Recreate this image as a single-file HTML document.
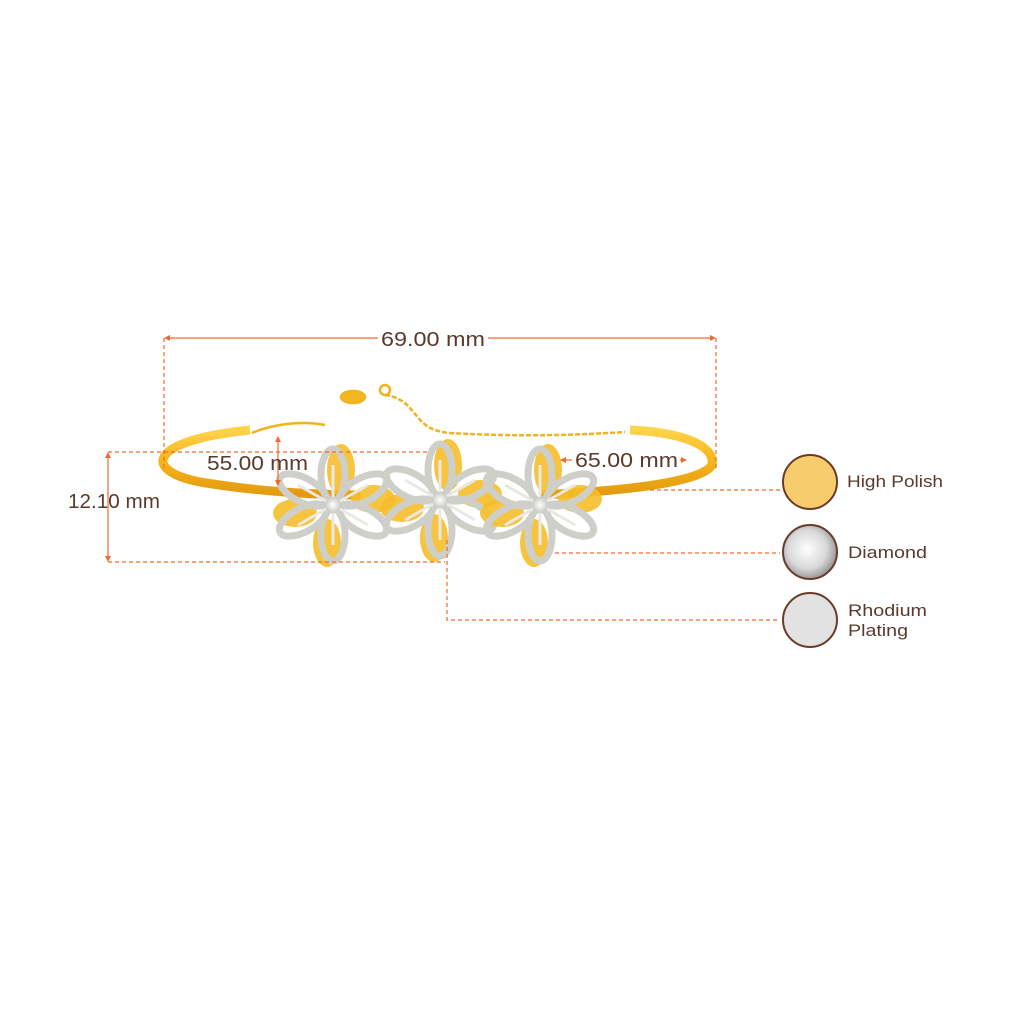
<!DOCTYPE html>
<html><head><style>body{margin:0;background:#fff}svg{display:block}</style></head><body>
<svg width="1024" height="1024" viewBox="0 0 1024 1024" xmlns="http://www.w3.org/2000/svg" font-family="Liberation Sans, sans-serif">
<defs>
<linearGradient id="g" x1="0" y1="0" x2="0" y2="1"><stop offset="0" stop-color="#ffd34a"/><stop offset=".5" stop-color="#f5b417"/><stop offset="1" stop-color="#e39a10"/></linearGradient>
<radialGradient id="s" cx=".5" cy=".5" r=".5"><stop offset="0" stop-color="#fff"/><stop offset="1" stop-color="#c9c9c4"/></radialGradient>
<radialGradient id="d" cx=".45" cy=".45" r=".6"><stop offset="0" stop-color="#fff"/><stop offset=".6" stop-color="#d8d8d8"/><stop offset="1" stop-color="#888"/></radialGradient>
<g id="fl">
<g fill="#f6be2a" opacity=".9"><ellipse cx="8" cy="-35" rx="14" ry="26"/><ellipse cx="40" cy="-6" rx="22" ry="14"/><ellipse cx="-38" cy="8" rx="22" ry="14"/><ellipse cx="-6" cy="38" rx="14" ry="24"/></g>
<g fill="none" stroke="#cfcfca" stroke-width="7">
<ellipse cx="0" cy="-30" rx="12" ry="26"/><ellipse cx="0" cy="30" rx="12" ry="26"/>
<ellipse cx="-30" cy="-15" rx="12" ry="26" transform="rotate(-62 -30 -15)"/><ellipse cx="30" cy="-15" rx="12" ry="26" transform="rotate(62 30 -15)"/>
<ellipse cx="-30" cy="15" rx="12" ry="26" transform="rotate(62 -30 15)"/><ellipse cx="30" cy="15" rx="12" ry="26" transform="rotate(-62 30 15)"/>
</g>
<g stroke="#e8e8e4" stroke-width="3"><line x1="0" y1="-40" x2="0" y2="40"/><line x1="-35" y1="-20" x2="35" y2="20"/><line x1="-35" y1="20" x2="35" y2="-20"/></g>
<circle r="8" fill="url(#s)"/>
</g>
</defs>
<path d="M250 430 C 150 440 140 470 200 482 C 260 492 320 495 360 495" fill="none" stroke="url(#g)" stroke-width="9"/>
<path d="M540 495 C 600 492 700 485 712 465 C 716 445 680 432 630 430" fill="none" stroke="url(#g)" stroke-width="9"/>
<g fill="none" stroke="#f0b21e" stroke-width="2.5">
<path d="M252 433 C 270 425 300 420 325 425"/>
<path d="M385 395 C 420 400 410 430 450 433 C 520 437 580 435 625 432" stroke-dasharray="5 2"/>
<ellipse cx="353" cy="397" rx="12" ry="6" fill="#f3b81f"/>
<circle cx="385" cy="390" r="5"/>
</g>
<use href="#fl" x="333" y="505"/>
<use href="#fl" x="440" y="500"/>
<use href="#fl" x="540" y="505"/>
<g stroke="#f26a2f" stroke-width="1.2" fill="none">
<line x1="166" y1="338" x2="378" y2="338"/><line x1="488" y1="338" x2="714" y2="338"/>
<line x1="164" y1="338" x2="164" y2="470" stroke-dasharray="4 3"/><line x1="716" y1="338" x2="716" y2="470" stroke-dasharray="4 3"/>
<line x1="108" y1="452" x2="430" y2="452" stroke-dasharray="4 3"/><line x1="108" y1="562" x2="445" y2="562" stroke-dasharray="4 3"/>
<line x1="108" y1="455" x2="108" y2="559"/>
<line x1="278" y1="439" x2="278" y2="483"/>
<line x1="562" y1="460" x2="572" y2="460"/><line x1="680" y1="460" x2="684" y2="460"/>
<line x1="650" y1="490" x2="780" y2="490" stroke-dasharray="4 3"/>
<line x1="555" y1="553" x2="780" y2="553" stroke-dasharray="4 3"/>
<path d="M447 540 V620 H780" stroke-dasharray="4 3"/>
</g>
<g fill="#f26a2f">
<path d="M164 338 l6 -3 v6z"/><path d="M716 338 l-6 -3 v6z"/>
<path d="M108 452 l-3 6 h6z"/><path d="M108 562 l-3 -6 h6z"/>
<path d="M278 436 l-3 6 h6z"/><path d="M278 486 l-3 -6 h6z"/>
<path d="M560 460 l6 -3 v6z"/><path d="M687 460 l-6 -3 v6z"/>
</g>
<g fill="#5a3a2e" font-size="20">
<text x="381" y="346" textLength="104" lengthAdjust="spacingAndGlyphs">69.00 mm</text>
<text x="68" y="508" textLength="92" lengthAdjust="spacingAndGlyphs">12.10 mm</text>
<text x="207" y="470" textLength="101" lengthAdjust="spacingAndGlyphs">55.00 mm</text>
<text x="575" y="467" textLength="103" lengthAdjust="spacingAndGlyphs">65.00 mm</text>
</g>
<circle cx="810" cy="482" r="27" fill="#f6cd6a" stroke="#6b3b28" stroke-width="2"/>
<circle cx="810" cy="552" r="27" fill="url(#d)" stroke="#6b3b28" stroke-width="2"/>
<circle cx="810" cy="620" r="27" fill="#e2e2e2" stroke="#6b3b28" stroke-width="2"/>
<g fill="#5a3a2e" font-size="17">
<text x="847" y="487" textLength="96" lengthAdjust="spacingAndGlyphs">High Polish</text>
<text x="848" y="558" textLength="79" lengthAdjust="spacingAndGlyphs">Diamond</text>
<text x="848" y="616" textLength="79" lengthAdjust="spacingAndGlyphs">Rhodium</text>
<text x="848" y="636" textLength="60" lengthAdjust="spacingAndGlyphs">Plating</text>
</g>
</svg>
</body></html>
